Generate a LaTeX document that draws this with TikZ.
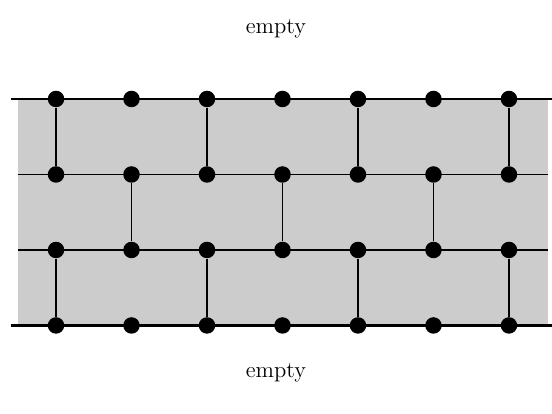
\documentclass[tikz,border=0pt]{standalone}
\usepackage{tikz}
\usetikzlibrary{positioning}
\begin{document}
\begin{tikzpicture}[x=1.327cm,y=1.327cm]
\tikzset{
  dot/.style={circle,fill=black,inner sep=0pt,minimum size=0.29cm},
  rail/.style={line width=1.2pt},
  wire/.style={line width=0.55pt},
  label/.style={font=\fontsize{11.3}{13}\selectfont}
}
\useasboundingbox (-0.742,1.311) rectangle (6.570,-4.172);

% Gray band between the rails
\fill[black!20] (-0.503,0) rectangle (6.517,-3);

% Horizontal lines
\foreach \j in {0,3} {
  \coordinate (l\j) at (-0.596,-\j);
  \coordinate (r\j) at (6.596,-\j);
  \draw[rail] (l\j) -- (r\j);
}
\foreach \j in {1,2} {
  \coordinate (l\j) at (-0.503,-\j);
  \coordinate (r\j) at (6.517,-\j);
  \draw[wire] (l\j) -- (r\j);
}

% Sites
\foreach \i in {0,...,6}
  \foreach \j in {0,...,3}
    \node[dot] (d\i\j) at (\i,-\j) {};

% Bonds
\foreach \i in {0,2,4,6} {
  \draw[wire] (d\i0) -- (d\i1);
  \draw[wire] (d\i2) -- (d\i3);
}
\foreach \i in {1,3,5}
  \draw[wire] (d\i1) -- (d\i2);

\node[label] (top) at (2.914,0.927) {empty};
\node[label] (bottom) at (2.914,-3.63) {empty};
\end{tikzpicture}
\end{document}
